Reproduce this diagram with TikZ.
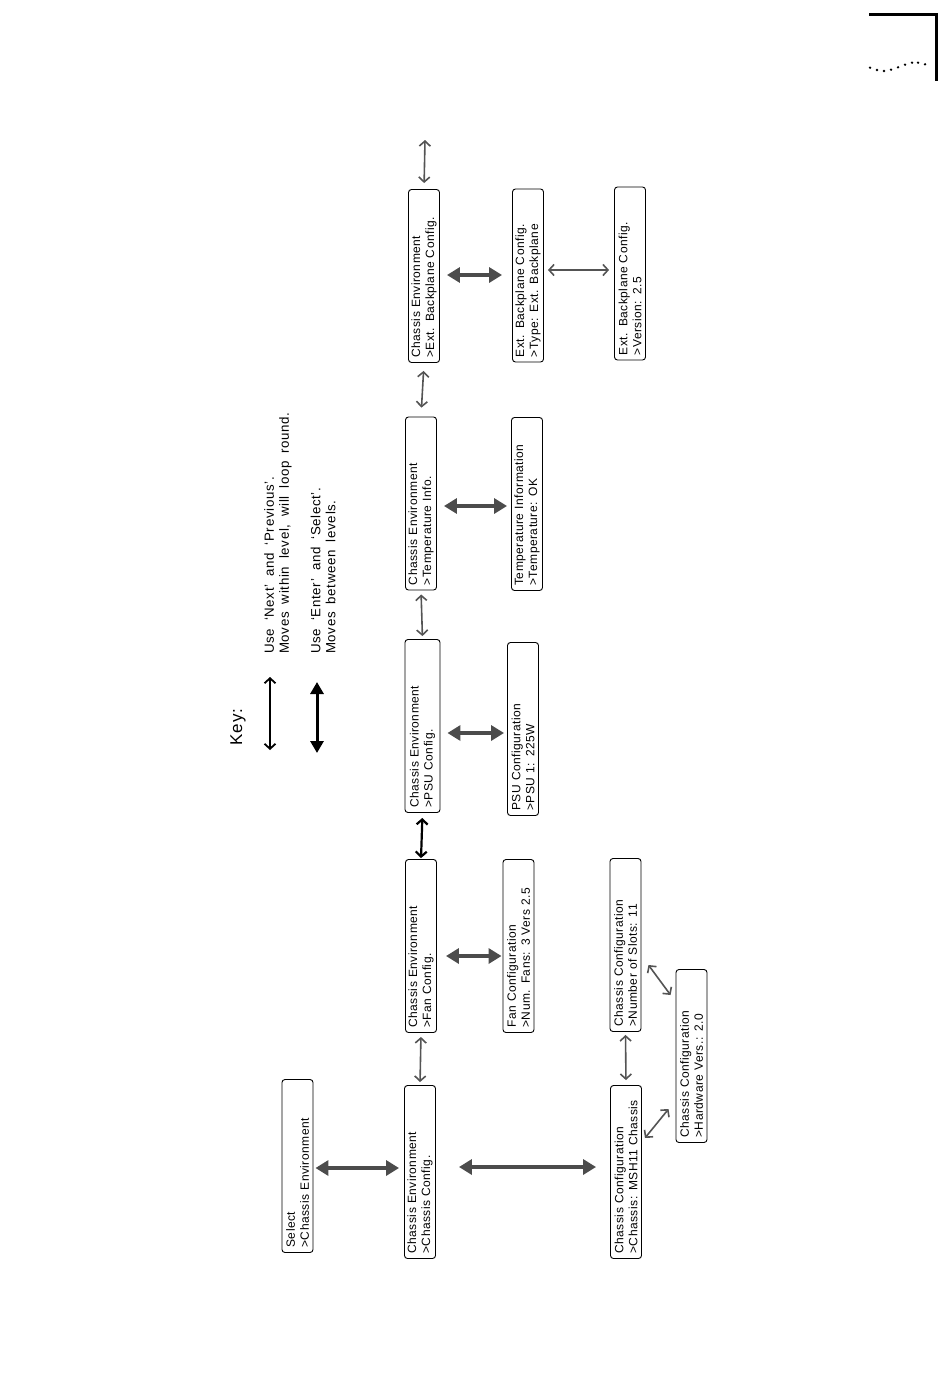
\documentclass[tikz,border=0pt]{standalone}
\usepackage{fontspec}
\setmainfont{Liberation Sans}
\newfontfamily\lcdfont{Liberation Sans}[LetterSpace=4.0,WordSpace=1.8]
\newfontfamily\keyfont{Liberation Sans}[LetterSpace=5.0,WordSpace=1.8]
\usetikzlibrary{arrows.meta}
\definecolor{navgray}{gray}{0.33}
\definecolor{lvlgray}{gray}{0.3}

\begin{document}
\begin{tikzpicture}[x=1pt,y=-1pt,
  screen/.style={draw, rounded corners=3pt, rotate=90, line width=0.9pt,
    minimum width=173pt, minimum height=31pt, text width=163pt,
    inner xsep=5pt, inner ysep=1pt, align=left,
    font=\lcdfont\fontsize{12}{14}\selectfont},
  nav/.style={{Straight Barb[length=5pt,width=11pt]}-{Straight Barb[length=5pt,width=11pt]},
    line width=1.6pt, navgray},
  lvl/.style={{Triangle[length=13pt,width=15pt]}-{Triangle[length=13pt,width=15pt]},
    line width=3.5pt, lvlgray},
  keytext/.style={rotate=90, anchor=west, align=left, inner sep=0pt,
    font=\keyfont\fontsize{13.3}{15}\selectfont}
]
  \useasboundingbox (0,0) rectangle (950,1389);

  % Corner mark
  \draw[line width=3pt] (869,15) -- (936,15) -- (936,81);
  \foreach \px/\py in {870/67.7,877/70,884/71,891/69.7,898/67.3,905/64.7,912/62.7,918/62.7,925/64.3}
    \fill (\px,\py) circle (1.3pt);

  % Key
  \node[rotate=90, font=\keyfont\fontsize{17}{19}\selectfont] (key) at (238,727) {Key:};
  \coordinate (k1a) at (270,750);
  \coordinate (k1b) at (270,677);
  \coordinate (k2a) at (317,753);
  \coordinate (k2b) at (317,682);
  \draw[nav, black, line width=1.8pt] (k1a) -- (k1b);
  \draw[lvl, black, line width=3pt,
    {Triangle[length=12pt,width=13pt]}-{Triangle[length=12pt,width=13pt]}] (k2a) -- (k2b);
  \node[keytext] (keyA) at (278,654) {Use ‘Next’ and ‘Previous’.\\Moves within level, will loop round.};
  \node[keytext] (keyB) at (323,654) {Use ‘Enter’ and ‘Select’.\\Moves between levels.};

  % Screens
  \node[screen] (sel) at (297.5,1166) {Select\\>Chassis Environment};
  \node[screen] (env1) at (420,1172) {Chassis Environment\\>Chassis Config.};
  \node[screen] (env2) at (421,946) {Chassis Environment\\>Fan Config.};
  \node[screen, minimum height=35pt] (env3) at (422.5,726) {Chassis Environment\\>PSU Config.};
  \node[screen] (env4) at (421,503.5) {Chassis Environment\\>Temperature Info.};
  \node[screen] (env5) at (424,276) {Chassis Environment\\>Ext. Backplane Config.};
  \node[screen] (fan) at (518.5,946) {Fan Configuration\\>Num. Fans: 3 Vers 2.5};
  \node[screen] (psu) at (523,729) {PSU Configuration\\>PSU 1: 225W};
  \node[screen] (temp) at (527,504) {Temperature Information\\>Temperature: OK};
  \node[screen] (extA) at (528,275.5) {Ext. Backplane Config.\\>Type: Ext. Backplane};
  \node[screen] (extB) at (630,273.5) {Ext. Backplane Config.\\>Version: 2.5};
  \node[screen] (cc1) at (626,1172) {Chassis Configuration\\>Chassis: MSH11 Chassis};
  \node[screen] (cc2) at (625.5,945) {Chassis Configuration\\>Number of Slots: 11};
  \node[screen] (cc3) at (691.5,1056) {Chassis Configuration\\>Hardware Vers.: 2.0};

  % Between levels
  \draw[lvl, shorten <=2pt, shorten >=5pt] (sel.south |- 0,1168) -- (env1.north |- 0,1168);
  \draw[lvl, shorten <=23pt, shorten >=14pt] (env1.south |- 0,1167) -- (cc1.north |- 0,1167);
  \draw[lvl, shorten <=9pt, shorten >=1pt] (env2.south |- 0,956) -- (fan.north |- 0,956);
  \draw[lvl, shorten <=7pt, shorten >=3pt] (env3.south |- 0,733) -- (psu.north |- 0,733);
  \draw[lvl, shorten <=7pt, shorten >=4pt] (env4.south |- 0,506) -- (temp.north |- 0,506);
  \draw[lvl, shorten <=7pt, shorten >=10pt] (env5.south |- 0,275) -- (extA.north |- 0,275);

  % Within a level
  \coordinate (top) at (425,140);
  \draw[nav, shorten >=6pt] (top) -- (env5.east);
  \draw[nav, shorten <=8pt, shorten >=9pt] (env5.west) -- (env4.east);
  \draw[nav, shorten <=4pt, shorten >=3pt] (env4.west) -- (env3.east);
  \draw[nav, black, line width=2.2pt, shorten <=5pt, shorten >=1pt] (env3.west) -- (env2.east);
  \draw[nav, shorten <=4pt, shorten >=3pt] (env2.west) -- (env1.east);
  \draw[nav, shorten <=4pt, shorten >=5pt] (extA.south |- 0,270) -- (extB.north |- 0,270);
  \draw[nav, shorten <=3pt, shorten >=5pt] (cc2.west) -- (cc1.east);
  \draw[nav] ([xshift=3pt,yshift=34pt]cc1.south) -- ([xshift=-7pt,yshift=-53pt]cc3.north);
  \draw[nav] ([xshift=7pt,yshift=-20pt]cc2.south) -- ([xshift=-5pt,yshift=61pt]cc3.north);
\end{tikzpicture}
\end{document}
